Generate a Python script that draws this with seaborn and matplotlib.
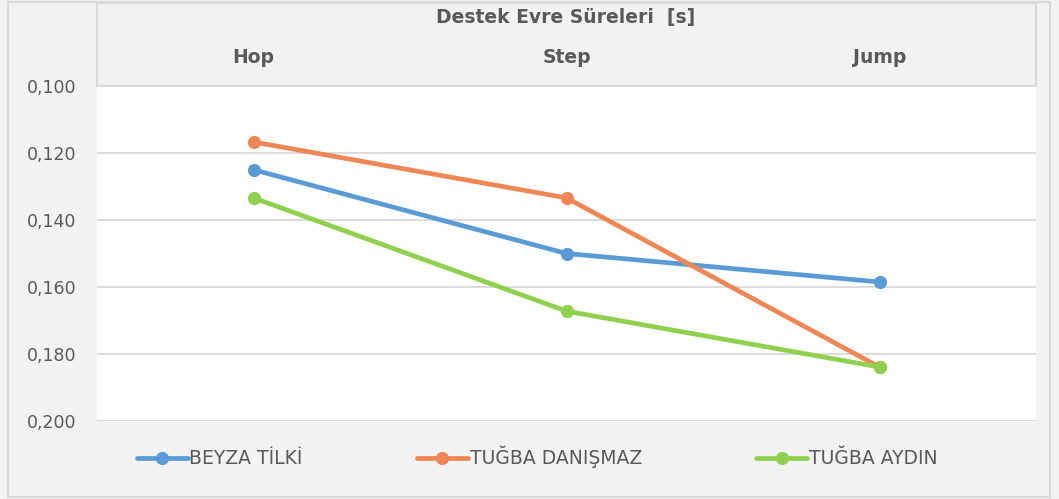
import matplotlib
matplotlib.use('Agg')
import matplotlib.pyplot as plt
import pandas as pd
import seaborn as sns
from matplotlib.patches import Rectangle
from matplotlib.lines import Line2D

# data
phases = ['Hop', 'Step', 'Jump']
names = ['BEYZA TİLKİ', 'TUĞBA DANIŞMAZ', 'TUĞBA AYDIN']
beyza = [0.125, 0.150, 0.1585]
danismaz = [0.1167, 0.1334, 0.1839]
aydin = [0.1334, 0.1672, 0.1839]
colors = ['#5B9BD5', '#EE8655', '#8FD14F']
yticks = [0.100, 0.120, 0.140, 0.160, 0.180, 0.200]

rows = []
for name, vals in zip(names, [beyza, danismaz, aydin]):
    for p, v in zip(phases, vals):
        rows.append({'phase': p, 'value': v, 'name': name})
df = pd.DataFrame(rows)

sns.set_style('white')
plt.rcParams['font.family'] = ['DejaVu Sans']

W, H = 1059, 499
fig = plt.figure(figsize=(W / 100, H / 100), dpi=100)
fig.patch.set_facecolor('#f2f2f2')

# outer frame and header band (behind the axes)
fig.patches.append(Rectangle((8 / W, 2 / H), 1042 / W, 495 / H, transform=fig.transFigure,
                             fill=False, edgecolor='#d9d9d9', linewidth=1.5, zorder=-2))
fig.patches.append(Rectangle((97 / W, (H - 86) / H), 939 / W, 83 / H, transform=fig.transFigure,
                             facecolor='#f2f2f2', edgecolor='#d9d9d9', linewidth=1.5, zorder=-1))

ax = fig.add_axes([97 / W, (H - 421) / H, 939 / W, 335 / H])
ax.set_facecolor('white')

sns.lineplot(data=df, x='phase', y='value', hue='name', palette=colors, marker='o',
             markersize=9.5, linewidth=3.4, markeredgewidth=0, sort=False, ax=ax, legend=False)

ax.set_xlim(-0.5, 2.5)
ax.set_ylim(0.200, 0.100)
ax.set_yticks(yticks)
ax.set_yticklabels([f'{t:.3f}'.replace('.', ',') for t in yticks])
ax.yaxis.grid(True, color='#d9d9d9', linewidth=1.3)
ax.xaxis.grid(False)
for s in ax.spines.values():
    s.set_visible(False)
ax.xaxis.tick_top()
ax.set_xticks(range(len(phases)))
ax.set_xticklabels(phases, fontweight='bold')
ax.tick_params(axis='x', length=0, pad=14, labelsize=13.5, labelcolor='#595959')
ax.tick_params(axis='y', length=0, pad=15, labelsize=12.5, labelcolor='#595959')
ax.set_xlabel('')
ax.set_ylabel('')

fig.text(566 / W, 1 - 17 / H, 'Destek Evre Süreleri  [s]', ha='center', va='center',
         fontsize=13.5, fontweight='bold', color='#595959')

handles = [Line2D([], [], color=c, linewidth=3.4, marker='o', markersize=9.5, markeredgewidth=0)
           for c in colors]
leg = fig.legend(handles, names, loc='center left', bbox_to_anchor=(120 / W, 1 - 457 / H),
                 ncol=3, frameon=False, handlelength=2.7, handletextpad=0.1,
                 columnspacing=6.1, prop={'size': 13.5})
for t in leg.get_texts():
    t.set_color('#595959')

fig.savefig('out.png', dpi=100, facecolor=fig.get_facecolor())
